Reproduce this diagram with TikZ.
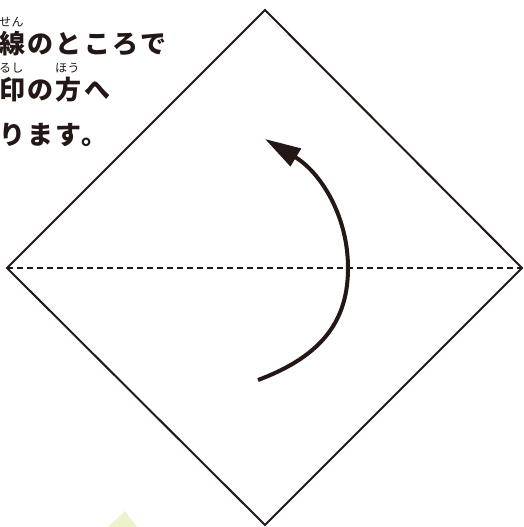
\documentclass[tikz,border=0pt]{standalone}
\usepackage{fontspec}
\newfontfamily\jp{Noto Sans CJK JP}[LetterSpace=9]
\newfontfamily\jpruby{Noto Sans CJK JP}[LetterSpace=4]
\usetikzlibrary{arrows.meta}
\definecolor{ink}{HTML}{231815}
\definecolor{leaf}{HTML}{EBF3CB}
\begin{document}
\begin{tikzpicture}[x=1pt,y=-1pt,
  main/.style={font=\jp\bfseries\fontsize{26}{26}\selectfont, text=ink, anchor=base west, inner sep=0pt},
  ruby/.style={font=\jpruby\fontsize{12}{12}\selectfont, text=ink, anchor=base west, inner sep=0pt},
  edgeline/.style={draw=ink, line width=2pt, line join=miter},
  foldline/.style={draw=ink, line width=1.5pt, dash pattern=on 6pt off 4pt},
  turnarrow/.style={draw=ink, line width=4pt, -{Triangle[length=36pt,width=20pt]}}]
\useasboundingbox (0,0) rectangle (524,527);
\coordinate (T) at (265,10);
\coordinate (R) at (522,268);
\coordinate (B) at (265,525);
\coordinate (L) at (7,268);
% shadow
\foreach \k in {1,...,16}
  \fill[black,opacity=0.03,shift={(\k,0.4*\k)}] (T) -- (R) -- (B) -- (L) -- cycle;
\fill[white] (T) -- (R) -- (B) -- (L) -- cycle;
\draw[foldline] (L) -- (R);
\draw[edgeline] (T) -- (R) -- (B) -- (L) -- cycle;
% arrow
\coordinate (a0) at (258,380);
\coordinate (a1) at (348,268);
\coordinate (a2) at (265,139);
\draw[turnarrow] (a0) .. controls (325,355) and (348,318) .. (a1) .. controls (348,215) and (320,172) .. (a2);
% green triangle
\coordinate (g0) at (125,511);
\coordinate (g1) at (91,543);
\coordinate (g2) at (149,543);
\fill[leaf] (g0) -- (g1) -- (g2) -- cycle;
% text
\node[main] (t1) at (-1,54) {線のところで};
\node[main] (t2) at (-1,99) {印の方へ};
\node[main] (t3) at (-1,144) {ります。};
\node[ruby] (r1) at (-1,27) {せん};
\node[ruby] (r2) at (-1,72) {るし};
\node[ruby] (r3) at (55,72) {ほう};
\end{tikzpicture}
\end{document}
